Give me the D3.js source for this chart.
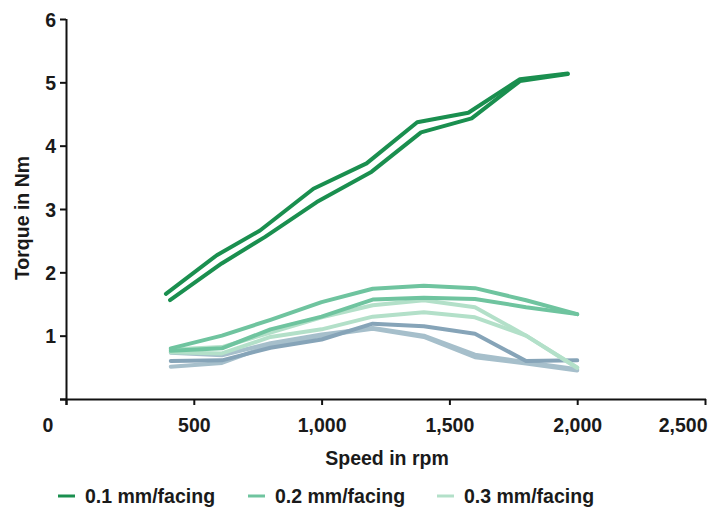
<!DOCTYPE html>
<html>
<head>
<meta charset="utf-8">
<script src="https://cdn.jsdelivr.net/npm/d3@7"></script>
<style>
  html, body { margin: 0; padding: 0; background: #ffffff; }
  svg { display: block; }
  text { font-family: "Liberation Sans", Arial, Helvetica, sans-serif; font-weight: bold; fill: #1a1a1a; }
</style>
</head>
<body>
<svg id="chart" width="709" height="507"></svg>
<script>
// ---- data ----
const xTicks = [0, 500, 1000, 1500, 2000, 2500];
const xTickLabels = ["0", "500", "1,000", "1,500", "2,000", "2,500"];
const yTicks = [0, 1, 2, 3, 4, 5, 6];
const yTickLabels = ["", "1", "2", "3", "4", "5", "6"];

const legendLabels = ["0.1 mm/facing", "0.2 mm/facing", "0.3 mm/facing"];

const speedA01 = [391, 590, 759, 968, 1176, 1374, 1574, 1776, 1963];
const torqueA01 = [1.66, 2.27, 2.66, 3.32, 3.72, 4.37, 4.52, 5.05, 5.14];
const speedB01 = [407, 609, 779, 981, 1196, 1389, 1587, 1776, 1963];
const torqueB01 = [1.56, 2.14, 2.56, 3.11, 3.59, 4.21, 4.43, 5.02, 5.13];

const speedLow = [410, 610, 800, 1000, 1200, 1400, 1600, 1800, 2000];
const torqueA02 = [0.80, 1.00, 1.25, 1.53, 1.74, 1.79, 1.75, 1.56, 1.34];
const torqueB02 = [0.76, 0.80, 1.10, 1.30, 1.57, 1.60, 1.58, 1.45, 1.34];
const torqueA03 = [0.78, 0.82, 1.05, 1.29, 1.48, 1.56, 1.45, 1.00, 0.49];
const torqueB03 = [0.74, 0.72, 0.98, 1.10, 1.30, 1.37, 1.29, 1.00, 0.50];
const torqueBlueDark = [0.60, 0.61, 0.81, 0.94, 1.19, 1.15, 1.03, 0.60, 0.61];
const torqueBlueLight = [0.51, 0.57, 0.85, 1.00, 1.11, 0.98, 0.66, 0.56, 0.45];
const torqueBlueLight2 = [0.73, 0.69, 0.88, 1.02, 1.12, 1.00, 0.70, 0.58, 0.47];

const colors = {
  c01: "#1a8f4f",
  c02: "#6fc49f",
  c03: "#b3e0c9",
  blueDark: "#86a4b8",
  blueLight: "#a6bfcb"
};

const series = [
  { x: speedLow, y: torqueBlueLight2, color: colors.blueLight },
  { x: speedLow, y: torqueBlueLight, color: colors.blueLight },
  { x: speedLow, y: torqueBlueDark, color: colors.blueDark },
  { x: speedLow, y: torqueB03, color: colors.c03 },
  { x: speedLow, y: torqueA03, color: colors.c03 },
  { x: speedLow, y: torqueB02, color: colors.c02 },
  { x: speedLow, y: torqueA02, color: colors.c02 },
  { x: speedB01, y: torqueB01, color: colors.c01 },
  { x: speedA01, y: torqueA01, color: colors.c01 }
];
const legendColors = [colors.c01, colors.c02, colors.c03];

const FS = "19.5px";

// ---- layout ----
const svg = d3.select("#chart");
const x = d3.scaleLinear().domain([0, 2500]).range([66, 705]);
const y = d3.scaleLinear().domain([0, 6]).range([399, 19]);

// axes
const xAxis = d3.axisBottom(x).tickValues(xTicks).tickSize(6).tickSizeOuter(0)
  .tickFormat((d, i) => (i === 0 ? "" : xTickLabels[i]));
const gx = svg.append("g").attr("transform", "translate(0,399)").call(xAxis);
gx.select(".domain").attr("d", `M${x(0) - 6},0.5H${x(2500) + 1}`).attr("stroke", "#111").attr("stroke-width", 2);
gx.selectAll(".tick line").attr("stroke", "#111").attr("stroke-width", 2);
gx.selectAll(".tick text").attr("dy", null).attr("y", 33)
  .style("font-size", FS).style("font-family", "'Liberation Sans', Arial, sans-serif").style("font-weight", "bold").attr("fill", "#1a1a1a")
  .attr("text-anchor", (d, i) => (i === xTicks.length - 1 ? "end" : "middle"))
  .attr("x", (d, i) => (i === xTicks.length - 1 ? 2 : 0));

const yAxis = d3.axisLeft(y).tickValues(yTicks).tickSize(6).tickSizeOuter(0)
  .tickFormat((d, i) => yTickLabels[i]);
const gy = svg.append("g").attr("transform", "translate(66,0)").call(yAxis);
gy.select(".domain").attr("d", `M0.5,${y(6)}V${y(0) + 6}`).attr("stroke", "#111").attr("stroke-width", 2);
gy.selectAll(".tick line").attr("stroke", "#111").attr("stroke-width", 2);
gy.selectAll(".tick text").attr("x", -10).attr("dy", "0.36em")
  .style("font-size", FS).style("font-family", "'Liberation Sans', Arial, sans-serif").style("font-weight", "bold").attr("fill", "#1a1a1a");

// shared origin label
svg.append("text").attr("x", 48).attr("y", 432).attr("text-anchor", "middle")
  .style("font-size", FS).text(xTickLabels[0]);

// axis titles
svg.append("text").attr("x", 387).attr("y", 465).attr("text-anchor", "middle")
  .style("font-size", FS).text("Speed in rpm");
svg.append("text").attr("transform", "translate(29,218) rotate(-90)").attr("text-anchor", "middle")
  .style("font-size", FS).text("Torque in Nm");

// lines
const line = d3.line().x(d => x(d[0])).y(d => y(d[1]));
svg.append("g").selectAll("path").data(series).join("path")
  .attr("d", s => line(s.x.map((v, i) => [v, s.y[i]])))
  .attr("fill", "none")
  .attr("stroke", s => s.color)
  .attr("stroke-width", 4)
  .attr("stroke-linejoin", "round")
  .attr("stroke-linecap", "round");

// legend
const legendX = [58, 248, 437];
const lg = svg.append("g").selectAll("g").data(legendLabels).join("g")
  .attr("transform", (d, i) => `translate(${legendX[i]},496)`);
lg.append("line").attr("x1", 0).attr("x2", 17).attr("y1", 0).attr("y2", 0)
  .attr("stroke", (d, i) => legendColors[i]).attr("stroke-width", 3);
lg.append("text").attr("x", 27).attr("y", 0).attr("dy", "0.36em")
  .style("font-size", FS).text(d => d);
</script>
</body>
</html>
